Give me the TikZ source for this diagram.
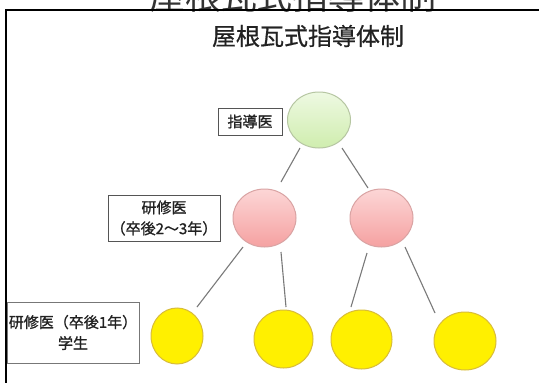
\documentclass[tikz,border=0pt]{standalone}
\usepackage{fontspec}
\setmainfont{Noto Sans CJK JP}
\newfontfamily\labelfont[FakeBold=1.2]{Noto Sans CJK JP}
\newfontfamily\titlefont[FakeBold=0.6]{Noto Sans CJK JP}
\usetikzlibrary{shapes.geometric,calc}
\definecolor{greenTop}{HTML}{EEF9E2}
\definecolor{greenBot}{HTML}{CFEDAE}
\definecolor{greenLine}{HTML}{B6C6A2}
\definecolor{pinkTop}{HTML}{FCD6D6}
\definecolor{pinkBot}{HTML}{F5A1A1}
\definecolor{pinkLine}{HTML}{D9A3A3}
\definecolor{yellowFill}{HTML}{FFF000}
\definecolor{yellowLine}{HTML}{D8BC3A}
\definecolor{connGray}{HTML}{7A7A7A}
\definecolor{boxGray}{HTML}{555555}
\definecolor{textDark}{HTML}{222222}
\tikzset{
  topnode/.style={ellipse, inner sep=0pt, minimum width=63pt, minimum height=56pt,
    top color=greenTop, bottom color=greenBot, draw=greenLine, line width=1pt},
  midnode/.style={ellipse, inner sep=0pt, minimum width=63pt, minimum height=58pt,
    top color=pinkTop, bottom color=pinkBot, draw=pinkLine, line width=1pt},
  lownode/.style={ellipse, inner sep=0pt, fill=yellowFill, draw=yellowLine, line width=1pt},
  labelbox/.style={rectangle, draw=boxGray, line width=1pt, fill=white, inner sep=0pt,
    align=center, text=textDark, font=\labelfont\fontsize{15}{21}\selectfont},
  conn/.style={draw=connGray, line width=1.1pt},
}
\begin{document}
\begin{tikzpicture}[x=1pt,y=-1pt]
\useasboundingbox (0,0) rectangle (539,383);
\clip (0,0) rectangle (539,383);
\fill[white] (0,0) rectangle (539,383);
% clipped heading above the frame
\node[anchor=base, inner sep=0pt, text=black!80, font=\fontsize{36}{40}\selectfont] (ghost) at (293,9) {屋根瓦式指導体制};
% frame
\draw[line width=2.6pt] (545,10) -- (6,10) -- (6,390);
% title
\node[inner sep=0pt, text=textDark, font=\titlefont\fontsize{24}{28}\selectfont] (title) at (308,36) {屋根瓦式指導体制};
% circles
\node[topnode] (g) at (319,120) {};
\node[midnode] (p1) at (264.5,218) {};
\node[midnode] (p2) at (381.5,218) {};
\node[lownode, minimum width=52pt, minimum height=56pt] (y1) at (177,336) {};
\node[lownode, minimum width=59pt, minimum height=58pt] (y2) at (283.5,339) {};
\node[lownode, minimum width=61pt, minimum height=59pt] (y3) at (361.5,339.5) {};
\node[lownode, minimum width=62pt, minimum height=58pt] (y4) at (465,341) {};
% label boxes
\node[labelbox, minimum width=64pt, minimum height=27pt] (l1) at (250,121.5) {指導医};
\node[labelbox, minimum width=112pt, minimum height=46pt] (l2) at (164,218) {研修医\\（卒後2～3年）};
\node[labelbox, minimum width=132pt, minimum height=61pt, draw=boxGray!80] (l3) at (73,332.5) {研修医（卒後1年）\\学生};
% connectors
\draw[conn] ($(g)+(-19,28)$) -- ($(p1)+(16.5,-36)$);
\draw[conn] ($(g)+(23,28)$) -- ($(p2)+(-13.5,-30)$);
\draw[conn] ($(p1)+(-21.5,29)$) -- ($(y1)+(20,-29)$);
\draw[conn] ($(p1)+(16.5,34)$) -- ($(y2)+(2.5,-32)$);
\draw[conn] ($(p2)+(-14.5,35)$) -- ($(y3)+(-10.5,-32.5)$);
\draw[conn] ($(p2)+(23.5,29)$) -- ($(y4)+(-30,-28)$);
\end{tikzpicture}
\end{document}
